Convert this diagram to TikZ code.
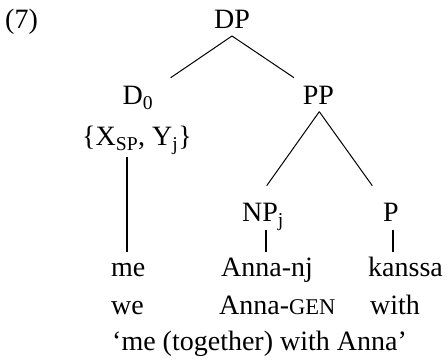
\documentclass[tikz,border=0pt]{standalone}
\usepackage{fontspec}
\setmainfont{Liberation Serif}
\usetikzlibrary{positioning, calc}

\begin{document}
\begin{tikzpicture}[x=1pt, y=-1pt,
    lbl/.style={inner sep=0pt, anchor=base, font=\fontsize{28}{32}\selectfont},
    word/.style={inner sep=0pt, anchor=base west, font=\fontsize{28}{32}\selectfont},
    branch/.style={line width=1pt},
    stem/.style={line width=1.6pt}]
    \useasboundingbox (0,0) rectangle (448,363);

    % Example number
    \node[word] (num) at (5,29) {(7)};

    % Tree labels
    \node[lbl] (DP) at (232,29) {DP};
    \node[lbl] (D0) at (138,105) {D\textsubscript{0}};
    \node[lbl] (feat) at (137,146) {\{X\textsubscript{SP}, Y\textsubscript{j}\}};
    \node[lbl] (PP) at (318.5,105) {PP};
    \node[lbl] (NP) at (263,222) {NP\textsubscript{j}};
    \node[lbl] (P) at (391,222) {P};

    % Words, gloss and translation
    \foreach \name/\x/\y/\txt in {me/111/277/me, anna/221/277/Anna-nj, kanssa/368/277/kanssa,
        we/111/315/we, gen/219/315/Anna-{\fontsize{22.5}{22.5}\selectfont GEN}, with/370/315/with,
        trans/112/351/`me (together) with Anna'} {
        \node[word] (\name) at (\x,\y) {\txt};
    }

    % Branches
    \draw[branch] ([yshift=-7pt]DP.base) -- ([xshift=32.7pt, yshift=27.3pt]D0.base);
    \draw[branch] ([yshift=-7pt]DP.base) -- ([xshift=-24.5pt, yshift=27.3pt]PP.base);
    \draw[branch] ([xshift=0.8pt, yshift=-6.7pt]PP.base) -- ([xshift=3.7pt, yshift=36.3pt]NP.base);
    \draw[branch] ([xshift=0.8pt, yshift=-6.7pt]PP.base) -- ([xshift=-18.7pt, yshift=36.3pt]P.base);

    % Stems to the words
    \draw[stem] ([xshift=-10.3pt, yshift=-11pt]feat.base) -- ([xshift=15.7pt, yshift=25.3pt]me.base west);
    \draw[stem] ([xshift=2.7pt, yshift=-8pt]NP.base) -- ([xshift=44.7pt, yshift=25.3pt]anna.base west);
    \draw[stem] ([xshift=1.7pt, yshift=-8pt]P.base) -- ([xshift=24.7pt, yshift=25.3pt]kanssa.base west);
\end{tikzpicture}
\end{document}
